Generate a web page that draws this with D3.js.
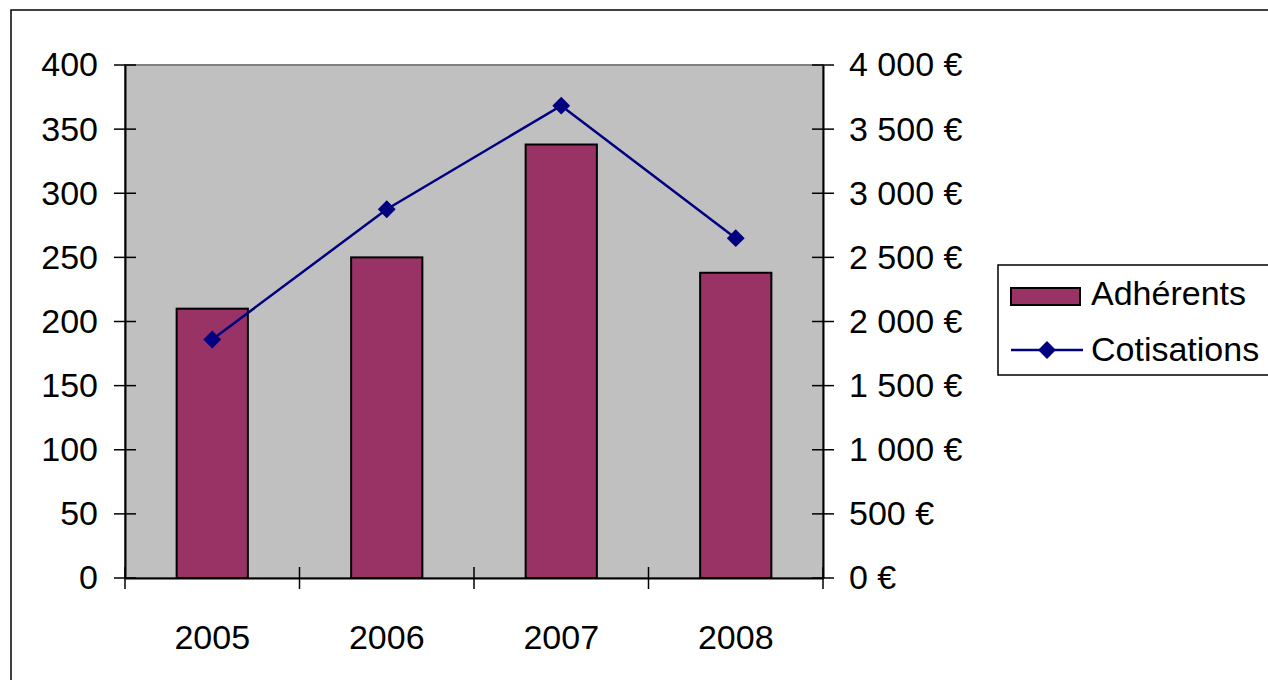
<!DOCTYPE html>
<html>
<head>
<meta charset="utf-8">
<script src="https://cdn.jsdelivr.net/npm/d3@7"></script>
<style>
  html, body { margin: 0; padding: 0; background: #fff; }
  svg { display: block; font-family: "Liberation Sans", Arial, sans-serif; }
</style>
</head>
<body>
<svg id="chart" width="1268" height="680"></svg>
<script>
// Data
const years = ["2005", "2006", "2007", "2008"];
const adherents = [210, 250, 338, 238];
const cotisations = [1860, 2875, 3683, 2650];
const leftTicks = [0, 50, 100, 150, 200, 250, 300, 350, 400];
const rightTicks = [0, 500, 1000, 1500, 2000, 2500, 3000, 3500, 4000];
const seriesNames = ["Adhérents", "Cotisations"];

const svg = d3.select("#chart");
const plot = { left: 125, right: 823, top: 65, bottom: 578 };
const fontSize = 34;

// Outer chart frame
svg.append("rect")
  .attr("x", 11).attr("y", 10).attr("width", 1300).attr("height", 700)
  .attr("fill", "#fff").attr("stroke", "#000").attr("stroke-width", 1.5);

const x = d3.scaleBand().domain(years).range([plot.left, plot.right]).paddingInner(0).paddingOuter(0);
const yL = d3.scaleLinear().domain([0, 400]).range([plot.bottom, plot.top]);
const yR = d3.scaleLinear().domain([0, 4000]).range([plot.bottom, plot.top]);

// Plot background
svg.append("rect")
  .attr("x", plot.left).attr("y", plot.top)
  .attr("width", plot.right - plot.left).attr("height", plot.bottom - plot.top)
  .attr("fill", "#c0c0c0").attr("stroke", "#808080").attr("stroke-width", 2);

// Bars
const barW = x.bandwidth() / 2.45;
svg.append("g").selectAll("rect").data(years).join("rect")
  .attr("x", d => x(d) + x.bandwidth() / 2 - barW / 2)
  .attr("y", (d, i) => yL(adherents[i]))
  .attr("width", barW)
  .attr("height", (d, i) => yL(0) - yL(adherents[i]))
  .attr("fill", "#993366").attr("stroke", "#000").attr("stroke-width", 2);

// Axes
const fmtEuro = v => d3.format(",")(v).replace(/,/g, "\u00a0") + " €";

const gL = svg.append("g").attr("transform", `translate(${plot.left},0)`)
  .call(d3.axisLeft(yL).tickValues(leftTicks).tickSize(0).tickPadding(27));
const gR = svg.append("g").attr("transform", `translate(${plot.right},0)`)
  .call(d3.axisRight(yR).tickValues(rightTicks).tickFormat(fmtEuro).tickSize(0).tickPadding(26));
const gB = svg.append("g").attr("transform", `translate(0,${plot.bottom})`)
  .call(d3.axisBottom(x).tickSize(0).tickPadding(47));

[gL, gR, gB].forEach(g => {
  g.select(".domain").attr("stroke", "#000").attr("stroke-width", 2);
  g.selectAll("text").attr("font-size", fontSize).attr("fill", "#000")
    .attr("font-family", "'Liberation Sans', Arial, sans-serif");
});

// Cross tick marks
const tickLen = 11;
svg.append("g").selectAll("line").data(leftTicks).join("line")
  .attr("x1", plot.left - tickLen).attr("x2", plot.left + tickLen)
  .attr("y1", d => yL(d)).attr("y2", d => yL(d))
  .attr("stroke", "#000").attr("stroke-width", 1.5);
svg.append("g").selectAll("line").data(rightTicks).join("line")
  .attr("x1", plot.right - tickLen).attr("x2", plot.right + tickLen)
  .attr("y1", d => yR(d)).attr("y2", d => yR(d))
  .attr("stroke", "#000").attr("stroke-width", 1.5);
const catEdges = years.map(d => x(d)).concat([plot.right]);
svg.append("g").selectAll("line").data(catEdges).join("line")
  .attr("x1", d => d).attr("x2", d => d)
  .attr("y1", plot.bottom - tickLen).attr("y2", plot.bottom + tickLen)
  .attr("stroke", "#000").attr("stroke-width", 1.5);

// Line series
const lineColor = "#000080";
const cx = d => x(d) + x.bandwidth() / 2;
svg.append("path")
  .datum(years)
  .attr("fill", "none").attr("stroke", lineColor).attr("stroke-width", 2.5)
  .attr("d", d3.line().x(cx).y((d, i) => yR(cotisations[i])));

const diamond = d3.symbol().type(d3.symbolSquare).size(160);
svg.append("g").selectAll("path").data(years).join("path")
  .attr("d", diamond)
  .attr("transform", (d, i) => `translate(${cx(d)},${yR(cotisations[i])}) rotate(45)`)
  .attr("fill", lineColor);

// Legend
const lg = svg.append("g");
lg.append("rect")
  .attr("x", 998).attr("y", 265).attr("width", 300).attr("height", 110)
  .attr("fill", "#fff").attr("stroke", "#000").attr("stroke-width", 1.5);
lg.append("rect")
  .attr("x", 1011).attr("y", 288).attr("width", 69).attr("height", 17)
  .attr("fill", "#993366").attr("stroke", "#000").attr("stroke-width", 2);
lg.append("line")
  .attr("x1", 1011).attr("x2", 1083).attr("y1", 350).attr("y2", 350)
  .attr("stroke", lineColor).attr("stroke-width", 2.5);
lg.append("path").attr("d", diamond)
  .attr("transform", "translate(1047,350) rotate(45)").attr("fill", lineColor);
lg.selectAll("text.lbl").data(seriesNames).join("text")
  .attr("class", "lbl")
  .attr("x", 1091).attr("y", (d, i) => 305 + i * 56)
  .attr("font-size", fontSize).attr("fill", "#000")
  .text(d => d);
</script>
</body>
</html>
